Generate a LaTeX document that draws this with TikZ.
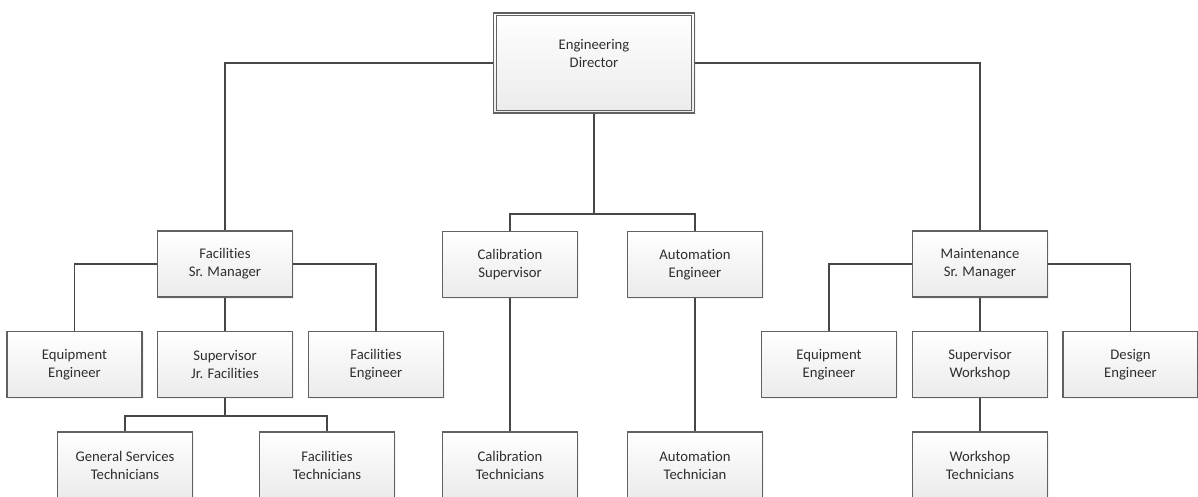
\documentclass[tikz,border=0pt]{standalone}
\usepackage{fontspec}
\setmainfont{Carlito}[Ligatures=NoCommon]
\usetikzlibrary{shadows}
\begin{document}
\begin{tikzpicture}[x=1pt,y=1pt,
  orgbox/.style={draw=black!62, line width=1.3pt, top color=white, bottom color=black!8,
    minimum width=135pt, minimum height=66pt, inner sep=0pt, align=center,
    text=black!82, font=\fontsize{14.7}{18}\selectfont,
    drop shadow={opacity=0.10, shadow xshift=1.5pt, shadow yshift=-1.5pt}},
  topbox/.style={orgbox, minimum width=201pt, minimum height=100pt},
  link/.style={draw=black!72, line width=1.8pt}]
\useasboundingbox (0,0) rectangle (1198,-497);

% director
\node[topbox] (dir) at (594,-63) {};
\draw[draw=black!62, line width=1pt] ([shift={(3.5,-3.5)}]dir.north west) rectangle ([shift={(-3.5,3.5)}]dir.south east);
\node[align=center, text=black!82, font=\fontsize{14.7}{18}\selectfont] (dirlabel) at (594,-53) {Engineering\\Director};

% second level
\node[orgbox] (fsm) at (225,-264) {Facilities\\Sr. Manager};
\node[orgbox] (cs)  at (510,-264.5) {Calibration\\Supervisor};
\node[orgbox] (ae)  at (695,-264.5) {Automation\\Engineer};
\node[orgbox] (msm) at (980,-264) {Maintenance\\Sr. Manager};

% third level
\node[orgbox] (ee1) at (74.5,-364.5) {Equipment\\Engineer};
\node[orgbox] (sjf) at (225,-364.5) {Supervisor\\Jr. Facilities};
\node[orgbox] (fe)  at (376,-364.5) {Facilities\\Engineer};
\node[orgbox] (ee2) at (829,-364.5) {Equipment\\Engineer};
\node[orgbox] (sw)  at (980,-364.5) {Supervisor\\Workshop};
\node[orgbox] (de)  at (1130.5,-364.5) {Design\\Engineer};

% fourth level
\node[orgbox] (gst) at (125,-465) {General Services\\Technicians};
\node[orgbox] (ft)  at (327,-465) {Facilities\\Technicians};
\node[orgbox] (ct)  at (510,-465) {Calibration\\Technicians};
\node[orgbox] (at)  at (695,-465) {Automation\\Technician};
\node[orgbox] (wt)  at (980,-465) {Workshop\\Technicians};

% director links
\draw[link] (dir.west) -| (fsm.north);
\draw[link] (dir.east) -| (msm.north);
\coordinate (midbus) at (594,-214);
\draw[link] (dir.south) -- (midbus);
\draw[link] (midbus) -| (cs.north);
\draw[link] (midbus) -| (ae.north);

% facilities branch
\draw[link] (fsm.west) -| (ee1.north);
\draw[link] (fsm.east) -| (fe.north);
\draw[link] (fsm.south) -- (sjf.north);
\coordinate (facbus) at (225,-416);
\draw[link] (sjf.south) -- (facbus);
\draw[link] (facbus) -| (gst.north);
\draw[link] (facbus) -| (ft.north);

% calibration and automation
\draw[link] (cs.south) -- (ct.north);
\draw[link] (ae.south) -- (at.north);

% maintenance branch
\draw[link] (msm.west) -| (ee2.north);
\draw[link] (msm.east) -| (de.north);
\draw[link] (msm.south) -- (sw.north);
\draw[link] (sw.south) -- (wt.north);
\end{tikzpicture}
\end{document}
